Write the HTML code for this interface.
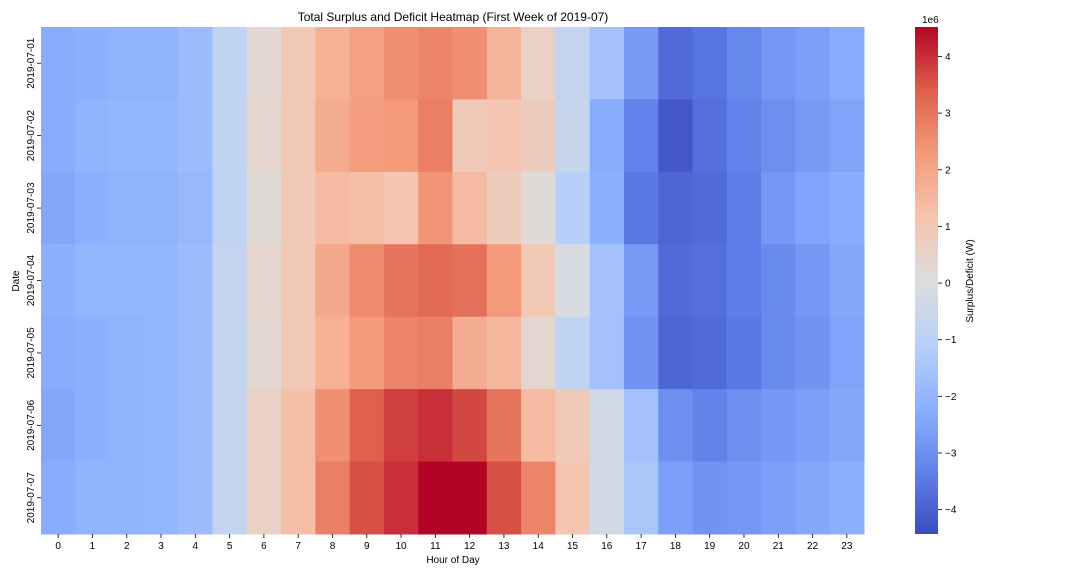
<!DOCTYPE html>
<html><head><meta charset="utf-8">
<style>
body{margin:0;background:#fff;font-family:"Liberation Sans",sans-serif;}
svg text{font-family:"Liberation Sans",sans-serif;fill:#000;}
</style></head>
<body>
<svg id="chart" width="1080" height="576" xmlns="http://www.w3.org/2000/svg">
<defs>
<linearGradient id="cbg" x1="0" y1="1" x2="0" y2="0">
<stop offset="0" stop-color="rgb(59,76,192)"/>
<stop offset="0.125" stop-color="rgb(98,130,234)"/>
<stop offset="0.25" stop-color="rgb(141,176,254)"/>
<stop offset="0.375" stop-color="rgb(184,208,249)"/>
<stop offset="0.5" stop-color="rgb(221,221,221)"/>
<stop offset="0.625" stop-color="rgb(245,196,173)"/>
<stop offset="0.75" stop-color="rgb(244,154,123)"/>
<stop offset="0.875" stop-color="rgb(222,96,77)"/>
<stop offset="1" stop-color="rgb(180,4,38)"/>
</linearGradient>
</defs>
<text x="453" y="21" font-size="12" text-anchor="middle">Total Surplus and Deficit Heatmap (First Week of 2019-07)</text>
<g id="cells"></g>
<g id="xticks"></g>
<g id="yticks"></g>
<text x="453" y="563" font-size="10" text-anchor="middle">Hour of Day</text>
<text x="0" y="0" font-size="10" text-anchor="middle" transform="translate(19,281) rotate(-90)">Date</text>
<rect x="915" y="27" width="23" height="507" fill="url(#cbg)"/>
<g id="cbticks"></g>
<text x="922" y="23" font-size="10">1e6</text>
<text x="0" y="0" font-size="10" text-anchor="middle" transform="translate(973,281) rotate(-90)">Surplus/Deficit (W)</text>
</svg>
<script>
const dates=["2019-07-01","2019-07-02","2019-07-03","2019-07-04","2019-07-05","2019-07-06","2019-07-07"];
const hours=["0","1","2","3","4","5","6","7","8","9","10","11","12","13","14","15","16","17","18","19","20","21","22","23"];
const row0=[-2.3,-2.2,-2.1,-2.1,-1.8,-0.8,0.3,1.0,1.7,2.1,2.5,2.7,2.5,1.6,0.6,-0.7,-1.6,-2.7,-3.8,-3.6,-3.2,-2.8,-2.6,-2.3];
const row1=[-2.3,-2.1,-2.0,-2.0,-1.8,-0.8,0.4,1.0,1.8,2.2,2.3,2.8,0.9,1.1,0.8,-0.6,-2.3,-3.3,-4.2,-3.7,-3.3,-3.0,-2.7,-2.5];
const row2=[-2.4,-2.2,-2.1,-2.1,-1.9,-0.8,0.2,0.9,1.4,1.3,1.1,2.4,1.4,0.8,0.2,-1.1,-2.2,-3.5,-3.9,-3.8,-3.4,-2.8,-2.5,-2.3];
const row3=[-2.2,-2.0,-2.0,-2.0,-1.8,-0.7,0.4,1.0,1.9,2.6,3.0,3.2,3.1,2.3,1.0,-0.1,-1.6,-2.7,-3.8,-3.7,-3.4,-3.1,-2.8,-2.4];
const row4=[-2.3,-2.2,-2.1,-2.0,-1.8,-0.7,0.3,1.0,1.7,2.3,2.7,2.8,1.8,1.5,0.4,-0.8,-1.6,-2.9,-3.9,-3.8,-3.5,-3.1,-2.9,-2.5];
const row5=[-2.4,-2.2,-2.1,-2.0,-1.8,-0.7,0.6,1.3,2.5,3.4,3.8,4.0,3.7,3.0,1.4,0.9,-0.3,-1.6,-3.0,-3.3,-3.0,-2.8,-2.6,-2.4];
const row6=[-2.3,-2.1,-2.1,-2.0,-1.8,-0.7,0.6,1.3,2.8,3.6,4.0,4.6,4.6,3.6,2.7,1.1,-0.3,-1.4,-2.6,-2.9,-2.8,-2.6,-2.4,-2.2];
const values=[row0,row1,row2,row3,row4,row5,row6];
const cbTicks=[-4,-3,-2,-1,0,1,2,3,4];
const vmin=-4.43, vmax=4.52;

const L=41,R=864,T=27,B=534;
const cw=(R-L)/hours.length, ch=(B-T)/dates.length;
const xPos=i=>L+i*cw, yPos=j=>T+j*ch;
const cbY=v=>B-(v-vmin)/(vmax-vmin)*(B-T);
const stops=[[59,76,192],[98,130,234],[141,176,254],[184,208,249],[221,221,221],[245,196,173],[244,154,123],[222,96,77],[180,4,38]];
function cmap(v){let t=Math.max(0,Math.min(1,(v-vmin)/(vmax-vmin)))*8;let i=Math.min(7,Math.floor(t));let f=t-i;
const a=stops[i],b=stops[i+1];return `rgb(${a.map((c,k)=>Math.round(c+(b[k]-c)*f)).join(',')})`;}
const NS="http://www.w3.org/2000/svg";
function mk(tag,attrs,parent){const e=document.createElementNS(NS,tag);for(const k in attrs)e.setAttribute(k,attrs[k]);parent.appendChild(e);return e;}
const cells=document.getElementById('cells');
values.forEach((row,j)=>row.forEach((v,i)=>{
 const r=mk('rect',{x:xPos(i),y:yPos(j),width:cw+0.5,height:ch+0.5,fill:cmap(v)},cells);
 
 
}));
const xt=document.getElementById('xticks');
hours.forEach((h,i)=>{const cx=xPos(i)+cw/2;
 const l=mk('line',{x1:cx,x2:cx,y1:B,y2:B+4,stroke:'#000','stroke-width':0.8},xt);
 
 
 const t=mk('text',{x:cx,y:B+15,'font-size':10,'text-anchor':'middle'},xt);t.textContent=h;
 
 
});
const yt=document.getElementById('yticks');
dates.forEach((d,j)=>{const cy=yPos(j)+ch/2;
 const l=mk('line',{x1:L-4,x2:L,y1:cy,y2:cy,stroke:'#000','stroke-width':0.8},yt);
 
 
 const t=mk('text',{x:0,y:0,'font-size':10,'text-anchor':'middle',transform:`translate(34,${cy}) rotate(-90)`},yt);t.textContent=d;
 
 
});
const cbt=document.getElementById('cbticks');
cbTicks.forEach(v=>{const y=cbY(v);
 const l=mk('line',{x1:938,x2:942,y1:y,y2:y,stroke:'#000','stroke-width':0.8},cbt);
 
 
 const t=mk('text',{x:945,y:y+3.5,'font-size':10},cbt);t.textContent=v<0?'\u2212'+(-v):String(v);
 
 
});
</script>
</body></html>
